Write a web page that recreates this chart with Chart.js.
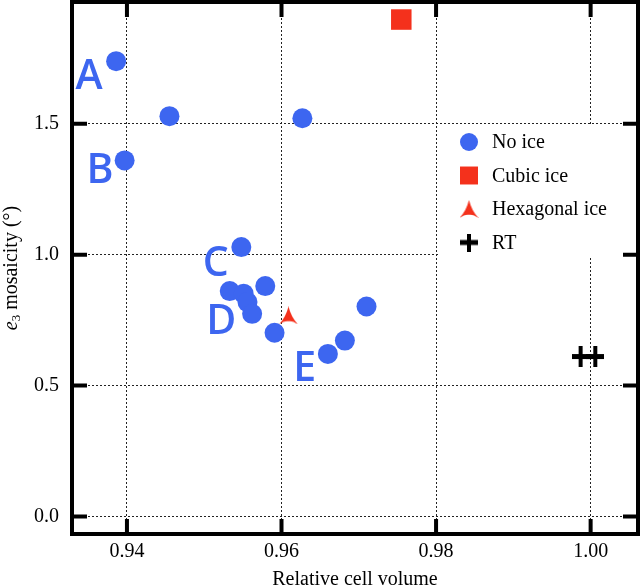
<!DOCTYPE html>
<html lang="en">
<head>
<meta charset="UTF-8">
<script src="https://cdn.jsdelivr.net/npm/chart.js@4.4.1/dist/chart.umd.min.js"></script>
<title>e3 mosaicity vs relative cell volume</title>
<style>
  html, body { margin: 0; padding: 0; background: #fff; }
</style>
</head>
<body>
<canvas id="chart" width="640" height="587"></canvas>
<script>
// data
const noIceX = [0.9386, 0.9455, 0.9627, 0.9397, 0.9548, 0.9533, 0.9551, 0.9556, 0.9562, 0.9579, 0.9591, 0.9660, 0.9682, 0.9710];
const noIceY = [1.739, 1.529, 1.521, 1.360, 1.029, 0.861, 0.851, 0.819, 0.774, 0.880, 0.702, 0.621, 0.672, 0.802];
const cubicX = [0.9755];
const cubicY = [1.898];
const hexX = [0.9609];
const hexY = [0.768];
const rtX = [0.9987, 1.0006];
const rtY = [0.611, 0.611];

const sampleLetters = ['A', 'B', 'C', 'D', 'E'];
const letterX = [0.9351, 0.9365, 0.9515, 0.9522, 0.9630];
const letterY = [1.684, 1.327, 0.971, 0.751, 0.570];

const xTicks = [0.94, 0.96, 0.98, 1.00];
const yTicks = [0.0, 0.5, 1.0, 1.5];
const seriesNames = ['No ice', 'Cubic ice', 'Hexagonal ice', 'RT'];

const BLUE = '#3d66f0';
const RED = '#f4311c';
const SERIF = "'Liberation Serif', 'DejaVu Serif', serif";

function pts(xs, ys) {
  return xs.map((x, i) => ({ x: x, y: ys[i] }));
}

// three-pointed arrowhead marker for hexagonal ice
function arrowMarker(color, w, h) {
  const c = document.createElement('canvas');
  c.width = w; c.height = h;
  const g = c.getContext('2d');
  g.fillStyle = color;
  g.beginPath();
  g.moveTo(w / 2, 0);
  g.quadraticCurveTo(w * 0.64, h * 0.6, w, h);
  g.quadraticCurveTo(w * 0.72, h * 0.78, w / 2, h * 0.82);
  g.quadraticCurveTo(w * 0.28, h * 0.78, 0, h);
  g.quadraticCurveTo(w * 0.36, h * 0.6, w / 2, 0);
  g.closePath();
  g.fill();
  return c;
}
// bold plus, a little taller than wide
function plusMarker(color, w, h) {
  const c = document.createElement('canvas');
  c.width = w; c.height = h;
  const g = c.getContext('2d');
  g.fillStyle = color;
  g.fillRect((w - 4) / 2, 0, 4, h);
  g.fillRect(0, (h - 5) / 2, w, 5);
  return c;
}
const hexMark = arrowMarker(RED, 19, 18);
const plusMark = plusMarker('#000', 18, 21);
const plusLegend = plusMarker('#000', 18, 18);

const datasets = [
  { label: seriesNames[0], data: pts(noIceX, noIceY), pointStyle: 'circle', pointRadius: 10,
    backgroundColor: BLUE, borderColor: BLUE, borderWidth: 0 },
  { label: seriesNames[1], data: pts(cubicX, cubicY), pointStyle: 'rect', pointRadius: 14.5,
    backgroundColor: RED, borderColor: RED, borderWidth: 0 },
  { label: seriesNames[2], data: pts(hexX, hexY), pointStyle: hexMark, pointRadius: 9,
    backgroundColor: RED, borderColor: RED },
  { label: seriesNames[3], data: pts(rtX, rtY), pointStyle: plusMark, pointRadius: 9,
    backgroundColor: '#000', borderColor: '#000' }
];

// big sample letters A–E placed in data space
const letterPlugin = {
  id: 'letters',
  afterDatasetsDraw(chart) {
    const ctx = chart.ctx, xs = chart.scales.x, ys = chart.scales.y;
    ctx.save();
    ctx.fillStyle = BLUE;
    ctx.font = "600 41px 'Open Sans', sans-serif";
    ctx.textAlign = 'center';
    ctx.textBaseline = 'middle';
    sampleLetters.forEach((t, i) => {
      ctx.fillText(t, xs.getPixelForValue(letterX[i]), ys.getPixelForValue(letterY[i]) + 2);
    });
    ctx.restore();
  }
};

// legend box inside the plot, covering the grid
const legendPlugin = {
  id: 'boxLegend',
  afterDatasetsDraw(chart) {
    const ctx = chart.ctx;
    const x0 = 439, y0 = 126, rowH = 33.5;
    ctx.save();
    ctx.fillStyle = '#fff';
    ctx.fillRect(x0, y0, 196, 131);
    chart.data.datasets.forEach((ds, i) => {
      const cy = 142 + i * rowH, cx = 469;
      ctx.fillStyle = ds.backgroundColor;
      ctx.strokeStyle = ds.borderColor;
      let r = ds.pointRadius, style = ds.pointStyle;
      if (i === 0) r = 9;
      if (i === 1) r = 12.7;
      if (i === 3) style = plusLegend;
      Chart.helpers.drawPoint(ctx, { pointStyle: style, radius: r, rotation: 0, borderWidth: 0 }, cx, cy);
      ctx.fillStyle = '#000';
      ctx.font = '20px ' + SERIF;
      ctx.textAlign = 'left';
      ctx.textBaseline = 'middle';
      ctx.fillText(ds.label, 492, cy + 1);
    });
    ctx.restore();
  }
};

// thick frame, inward ticks on all sides, and the y title with italic e and subscript
const framePlugin = {
  id: 'frame',
  afterDraw(chart) {
    const ctx = chart.ctx, xs = chart.scales.x, ys = chart.scales.y;
    const { left, right, top, bottom } = chart.chartArea;
    ctx.save();
    ctx.strokeStyle = '#000';
    ctx.lineWidth = 4;
    ctx.lineCap = 'butt';
    ctx.beginPath();
    xTicks.forEach(v => {
      const px = xs.getPixelForValue(v);
      ctx.moveTo(px, bottom); ctx.lineTo(px, bottom - 15);
      ctx.moveTo(px, top); ctx.lineTo(px, top + 15);
    });
    yTicks.forEach(v => {
      const py = ys.getPixelForValue(v);
      ctx.moveTo(left, py); ctx.lineTo(left + 15, py);
      ctx.moveTo(right, py); ctx.lineTo(right - 15, py);
    });
    ctx.stroke();
    ctx.strokeRect(left, top, right - left, bottom - top);

    // y axis title
    ctx.translate(12, (top + bottom) / 2);
    ctx.rotate(-Math.PI / 2);
    ctx.fillStyle = '#000';
    ctx.textBaseline = 'middle';
    ctx.textAlign = 'left';
    const fItal = 'italic 20px ' + SERIF, fNorm = '20px ' + SERIF, fSub = '13px ' + SERIF;
    const rest = ' mosaicity (\u00B0)';
    ctx.font = fItal; const wE = ctx.measureText('e').width;
    ctx.font = fSub; const w3 = ctx.measureText('3').width;
    ctx.font = fNorm; const wR = ctx.measureText(rest).width;
    let x = -(wE + w3 + wR) / 2;
    ctx.font = fItal; ctx.fillText('e', x, 0); x += wE;
    ctx.font = fSub; ctx.fillText('3', x, 5); x += w3;
    ctx.font = fNorm; ctx.fillText(rest, x, 0);
    ctx.restore();
  }
};

new Chart(document.getElementById('chart'), {
  type: 'scatter',
  data: { datasets: datasets },
  options: {
    responsive: false,
    animation: false,
    events: [],
    layout: { autoPadding: false, padding: { top: 2, right: 2, left: 0, bottom: 0 } },
    plugins: { legend: { display: false }, tooltip: { enabled: false } },
    scales: {
      x: {
        type: 'linear',
        min: 0.93289,
        max: 1.00613,
        afterBuildTicks: s => { s.ticks = xTicks.map(v => ({ value: v })); },
        afterFit: s => { s.height = 53; s.paddingLeft = 0; s.paddingRight = 0; },
        ticks: {
          padding: 6,
          color: '#000',
          font: { family: SERIF, size: 20 },
          callback: v => v.toFixed(2)
        },
        grid: { color: '#222', lineWidth: 1, drawTicks: false },
        border: { display: false, dash: [2, 2] },
        title: {
          display: true,
          text: 'Relative cell volume',
          color: '#000',
          font: { family: SERIF, size: 20, lineHeight: 0.7 },
          padding: { top: 0, bottom: 0 }
        }
      },
      y: {
        type: 'linear',
        min: -0.0668,
        max: 1.965,
        afterBuildTicks: s => { s.ticks = yTicks.map(v => ({ value: v })); },
        afterFit: s => { s.width = 72; s.paddingTop = 0; s.paddingBottom = 0; },
        ticks: {
          padding: 13,
          color: '#000',
          font: { family: SERIF, size: 20 },
          callback: v => v.toFixed(1)
        },
        grid: { color: '#222', lineWidth: 1, drawTicks: false },
        border: { display: false, dash: [2, 2] }
      }
    }
  },
  plugins: [letterPlugin, legendPlugin, framePlugin]
});
</script>
</body>
</html>
